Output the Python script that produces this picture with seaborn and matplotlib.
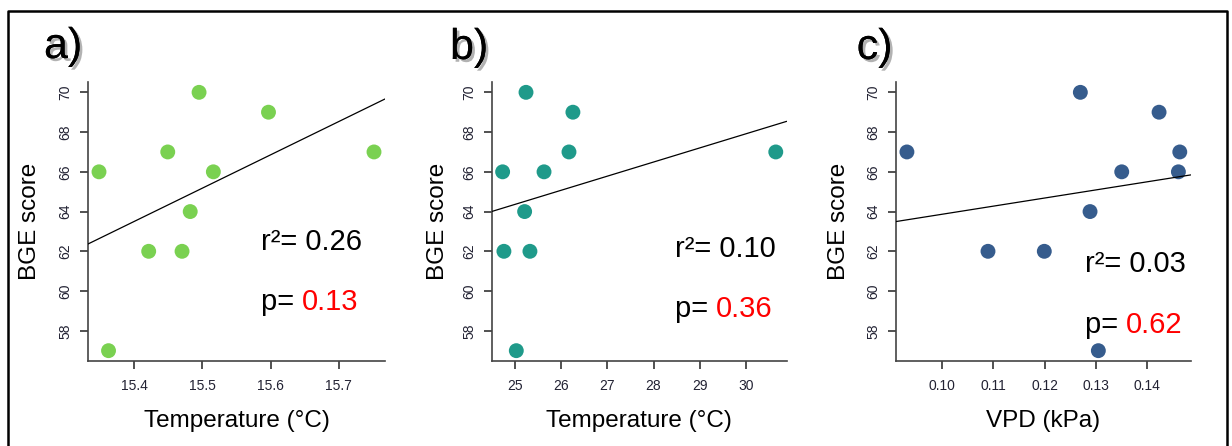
import numpy as np
import pandas as pd
import matplotlib
matplotlib.use("Agg")
import matplotlib.pyplot as plt
import matplotlib.patheffects as pe
from matplotlib.lines import Line2D
import seaborn as sns

# ---- data ----
bge_score = [66, 57, 62, 67, 62, 64, 70, 66, 69, 67]
temp_a = [15.348, 15.362, 15.421, 15.449, 15.470, 15.482, 15.495, 15.516, 15.597, 15.752]

bge_score_b = [66, 62, 57, 64, 70, 62, 66, 67, 69, 67]
temp_b = [24.734, 24.762, 25.03, 25.21, 25.24, 25.325, 25.63, 26.17, 26.255, 30.645]

bge_score_c = [67, 62, 62, 70, 64, 57, 66, 69, 66, 67]
vpd_c = [0.09317, 0.10898, 0.11996, 0.12699, 0.12888, 0.13050, 0.13506, 0.14234, 0.14611, 0.14638]

xticks_a = [15.4, 15.5, 15.6, 15.7]
xticks_b = [25, 26, 27, 28, 29, 30]
xticks_c = [0.10, 0.11, 0.12, 0.13, 0.14]
yticks = [58, 60, 62, 64, 66, 68, 70]

panel_labels = ["a)", "b)", "c)"]
xlabels = ["Temperature (°C)", "Temperature (°C)", "VPD (kPa)"]
ylabel = "BGE score"
r2_texts = ["0.26", "0.10", "0.03"]
p_texts = ["0.13", "0.36", "0.62"]
colors = ["#7AD151", "#1F9A8A", "#365C8D"]

sns.set_style("ticks")
plt.rcParams["font.family"] = ["Liberation Sans", "DejaVu Sans"]

W, H = 1232, 446
fig = plt.figure(figsize=(W / 100, H / 100), dpi=100)

# axes rectangles in pixels: left, right ; top=82, bottom=361
ax_px = [(88, 385), (491.7, 786.7), (896, 1190.7)]
top_px, bot_px = 82, 361

datasets = [
    (temp_a, bge_score, xticks_a, "{:.1f}"),
    (temp_b, bge_score_b, xticks_b, "{:.0f}"),
    (vpd_c, bge_score_c, xticks_c, "{:.2f}"),
]
text_pos = [(0.582, 0.398, 0.183), (0.621, 0.373, 0.158), (0.641, 0.319, 0.100)]
label_px = [(44, 58), (450, 59), (856.7, 59)]
ylabel_pad = [13, 10, 12]

for i, ((x, y, xt, fmt), (l, r)) in enumerate(zip(datasets, ax_px)):
    ax = fig.add_axes([l / W, (H - bot_px) / H, (r - l) / W, (bot_px - top_px) / H])
    xa, ya = np.asarray(x), np.asarray(y)
    xr = xa.max() - xa.min()
    yr = ya.max() - ya.min()
    ax.set_xlim(xa.min() - 0.04 * xr, xa.max() + 0.04 * xr)
    ax.set_ylim(ya.min() - 0.04 * yr, ya.max() + 0.04 * yr)
    df = pd.DataFrame({"x": x, "y": y})
    sns.regplot(data=df, x="x", y="y", ax=ax, ci=None, truncate=False,
                scatter_kws=dict(s=115, color=colors[i], edgecolor="none", alpha=1, zorder=2),
                line_kws=dict(color="black", lw=0.9, zorder=3))
    ax.set_xticks(xt)
    ax.set_xticklabels([fmt.format(v) for v in xt])
    ax.set_yticks(yticks)
    ax.set_yticklabels([str(v) for v in yticks], rotation=90, va="center")
    ax.tick_params(axis="both", direction="out", length=6, width=1.1, color="#222222",
                   labelsize=10, labelcolor="#222233")
    ax.tick_params(axis="x", pad=7)
    ax.tick_params(axis="y", pad=5)
    for s in ["top", "right"]:
        ax.spines[s].set_visible(False)
    for s in ["left", "bottom"]:
        ax.spines[s].set_color("#444444")
        ax.spines[s].set_linewidth(1.2)
    ax.set_xlabel(xlabels[i], fontsize=17.5, labelpad=12, color="black")
    ax.set_ylabel(ylabel, fontsize=17.5, labelpad=ylabel_pad[i], color="black")

    tx, ty1, ty2 = text_pos[i]
    ax.text(tx, ty1, "r²= " + r2_texts[i], transform=ax.transAxes, fontsize=21,
            ha="left", va="baseline", color="black")
    t = ax.text(tx, ty2, "p= ", transform=ax.transAxes, fontsize=21,
                ha="left", va="baseline", color="black")
    ax.annotate(p_texts[i], xy=(1, 0), xycoords=t, fontsize=21, ha="left",
                va="bottom", color="red")

    lx, ly = label_px[i]
    fig.text(lx / W, (H - ly) / H, panel_labels[i], fontsize=31, ha="left",
             va="baseline", color="black",
             path_effects=[pe.withSimplePatchShadow(offset=(2, -2),
                                                    shadow_rgbFace="#808080", alpha=0.6),
                           pe.Normal()])

# outer frame (open at bottom)
frame = Line2D([8 / W, 8 / W, 1227 / W, 1227 / W],
               [0, (H - 10.5) / H, (H - 10.5) / H, 0],
               transform=fig.transFigure, color="black", lw=1.8)
fig.add_artist(frame)

fig.savefig("out.png", dpi=100)
